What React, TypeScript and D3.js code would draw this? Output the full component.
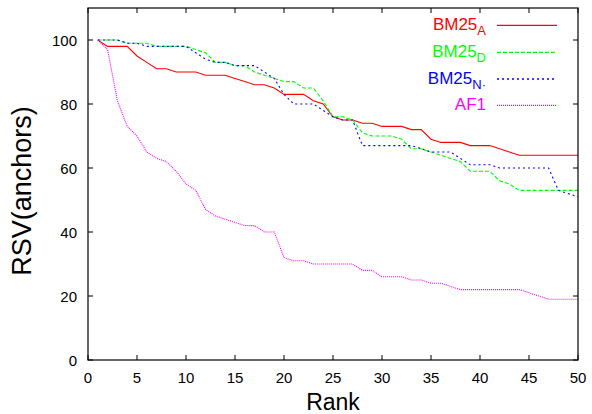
import React from 'react';
import * as d3 from 'd3';

const ranks = [1,2,3,4,5,6,7,8,9,10,11,12,13,14,15,16,17,18,19,20,21,22,23,24,25,26,27,28,29,30,31,32,33,34,35,36,37,38,39,40,41,42,43,44,45,46,47,48,49,50];

const bm25A = [100,98,98,98,95,93,91,91,90,90, 90,89,89,89,88,87,86,86,85,83, 83,83,81,80,76,75,75,74,74,73, 73,73,72,72,69,68,68,68,67,67, 67,66,65,64,64,64,64,64,64,64];
const bm25D = [100,100,100,99,99,99,98,98,98,98, 97,96,93,93,92,92,90,89,88,87, 87,85,85,81,76,76,75,71,70,70, 70,69,66,66,65,64,63,62,59,59, 59,56,55,53,53,53,53,53,53,53];
const bm25N = [100,100,100,99,99,98,98,98,98,98, 96,94,93,93,92,92,92,90,88,83, 80,80,80,78,76,75,75,67,67,67, 67,67,67,66,65,65,65,63,61,61, 61,60,60,60,60,60,60,53,52,51];
const af1 = [100,97,81,73,70,65,63,62,59,55, 53,47,45,44,43,42,42,40,40,32, 31,31,30,30,30,30,30,28,28,26, 26,26,25,25,24,24,23,22,22,22, 22,22,22,22,21,20,19,19,19,19];

const xTicks = [0,5,10,15,20,25,30,35,40,45,50];
const yTicks = [0,20,40,60,80,100];

const seriesNames = [
  { main: 'BM25', sub: 'A' },
  { main: 'BM25', sub: 'D' },
  { main: 'BM25', sub: 'N·' },
  { main: 'AF1', sub: '' },
];
const seriesValues = [bm25A, bm25D, bm25N, af1];
const seriesColors = ['#ff0000', '#00ff00', '#0000ff', '#ff00ff'];
const seriesDash = ['', '4,2', '2,3', '1,1'];

const W = 592, H = 414;
const L = 88, R = 578, T = 8, B = 360;
const FONT = '"Liberation Sans", Arial, Helvetica, sans-serif';

export default function App() {
  const x = d3.scaleLinear().domain([0, 50]).range([L, R]);
  const y = d3.scaleLinear().domain([0, 110]).range([B, T]);
  const line = d3.line<number>().x((_, i) => x(ranks[i])).y(d => y(d));
  const tick = 5;
  const legY = [25.3, 52.3, 79, 105.3];
  return (
    <svg width={W} height={H} style={{ position: 'absolute', left: 0, top: 0, background: '#fff' }} fontFamily={FONT}>
      <defs>
        <clipPath id="plot"><rect x={L} y={T} width={R - L} height={B - T} /></clipPath>
      </defs>
      <rect x={0} y={0} width={W} height={H} fill="#fff" />
      {xTicks.map(t => (
        <g key={'x' + t}>
          <line x1={x(t)} x2={x(t)} y1={B} y2={B - tick} stroke="#000" strokeWidth={1} />
          <line x1={x(t)} x2={x(t)} y1={T} y2={T + tick} stroke="#000" strokeWidth={1} />
          <text x={x(t)} y={383} fontSize={15} textAnchor="middle" fill="#000">{t}</text>
        </g>
      ))}
      {yTicks.map(t => (
        <g key={'y' + t}>
          <line x1={L} x2={L + tick} y1={y(t)} y2={y(t)} stroke="#000" strokeWidth={1} />
          <line x1={R} x2={R - tick} y1={y(t)} y2={y(t)} stroke="#000" strokeWidth={1} />
          <text x={77} y={y(t) + 5.5} fontSize={15} textAnchor="end" fill="#000">{t}</text>
        </g>
      ))}
      <g clipPath="url(#plot)">
        {seriesValues.map((vals, i) => (
          <path key={i} d={line(vals) || ''} fill="none" stroke={seriesColors[i]} strokeWidth={1.1}
            strokeDasharray={seriesDash[i] || undefined} />
        ))}
      </g>
      {seriesNames.map((s, i) => {
        const ly = legY[i];
        return (
          <g key={'l' + i}>
            <text x={486} y={ly + 5} fontSize={17} textAnchor="end" fill={seriesColors[i]}>
              {s.main}
              {s.sub ? <tspan fontSize={13} dy={5}>{s.sub}</tspan> : null}
            </text>
            <line x1={497} x2={557} y1={ly} y2={ly} stroke={seriesColors[i]} strokeWidth={1.3}
              strokeDasharray={seriesDash[i] || undefined} />
          </g>
        );
      })}
      <rect x={L} y={T} width={R - L} height={B - T} fill="none" stroke="#000" strokeWidth={1.2} />
      <text x={(L + R) / 2} y={410} fontSize={23} textAnchor="middle" fill="#000">Rank</text>
      <text transform={`translate(31,${(T + B) / 2 + 7}) rotate(-90)`} fontSize={27} textAnchor="middle" fill="#000">RSV(anchors)</text>
    </svg>
  );
}
